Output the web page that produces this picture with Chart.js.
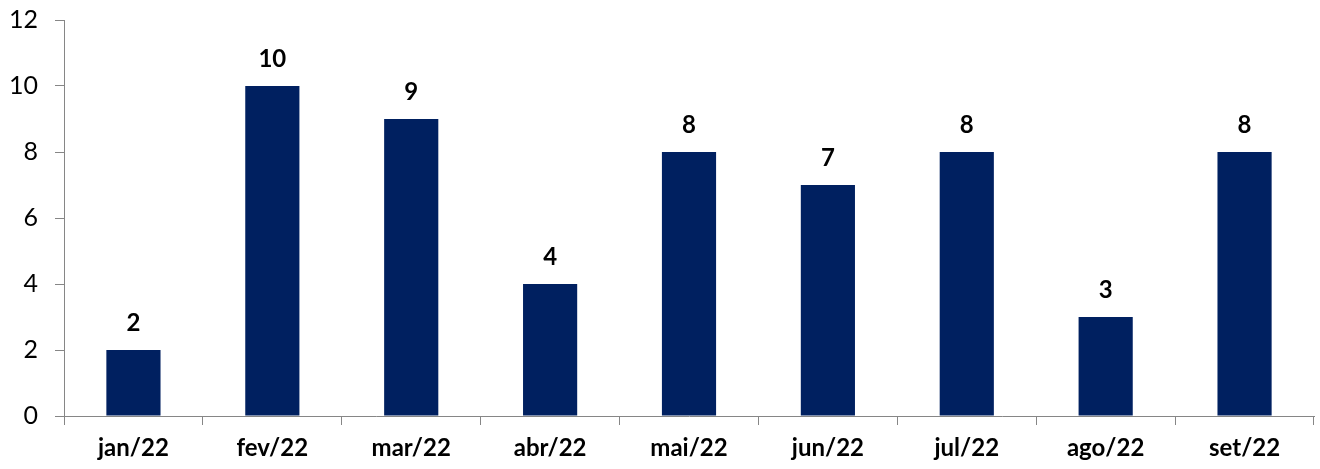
<!DOCTYPE html>
<html><head><meta charset="utf-8">
<script src="https://cdn.jsdelivr.net/npm/chart.js@4/dist/chart.umd.min.js"></script>
<style>html,body{margin:0;padding:0;background:#fff;}#wrap{width:1320px;height:469px;}</style>
</head><body><div id="wrap"><canvas id="c"></canvas></div>
<script>
const categories = ['jan/22','fev/22','mar/22','abr/22','mai/22','jun/22','jul/22','ago/22','set/22'];
const values = [2,10,9,4,8,7,8,3,8];
const yTicks = [0,2,4,6,8,10,12];

const labelPlugin = {
  id:'vlabels',
  afterDatasetsDraw(chart){
    const ctx = chart.ctx;
    const meta = chart.getDatasetMeta(0);
    ctx.save();
    ctx.font = 'bold 24px Lato, "Open Sans", sans-serif';
    ctx.fillStyle = '#000';
    ctx.textAlign = 'center';
    ctx.textBaseline = 'middle';
    meta.data.forEach((bar,i)=>{
      ctx.fillText(String(values[i]), bar.x, bar.y - 27);
    });
    ctx.restore();
  }
};

new Chart(document.getElementById('c'), {
  type:'bar',
  data:{labels:categories, datasets:[{data:values, backgroundColor:'#002060', categoryPercentage:1, barPercentage:0.39}]},
  options:{
    responsive:true, maintainAspectRatio:false, animation:false,
    layout:{padding:{top:20,right:6,left:0,bottom:0}},
    plugins:{legend:{display:false},tooltip:{enabled:false}},
    scales:{
      x:{
        offset:true,
        grid:{offset:true, drawOnChartArea:false, drawTicks:true, tickLength:9, color:'#868686'},
        border:{color:'#868686', width:1},
        ticks:{font:{family:'Lato, "Open Sans", sans-serif', size:24, weight:'bold'}, color:'#000', padding:9},
        afterFit(s){ s.height = 53; s.paddingLeft = 0; s.paddingRight = 0; }
      },
      y:{
        min:0, max:12,
        afterBuildTicks(s){ s.ticks = yTicks.map(v=>({value:v})); },
        grid:{drawOnChartArea:false, drawTicks:true, tickLength:9, color:'#868686'},
        border:{color:'#868686', width:1},
        ticks:{font:{family:'Lato, "Open Sans", sans-serif', size:25}, color:'#000', padding:17},
        afterFit(s){ s.width = 64; s.paddingTop = 0; s.paddingBottom = 0; }
      }
    }
  },
  plugins:[labelPlugin]
});
</script></body></html>
